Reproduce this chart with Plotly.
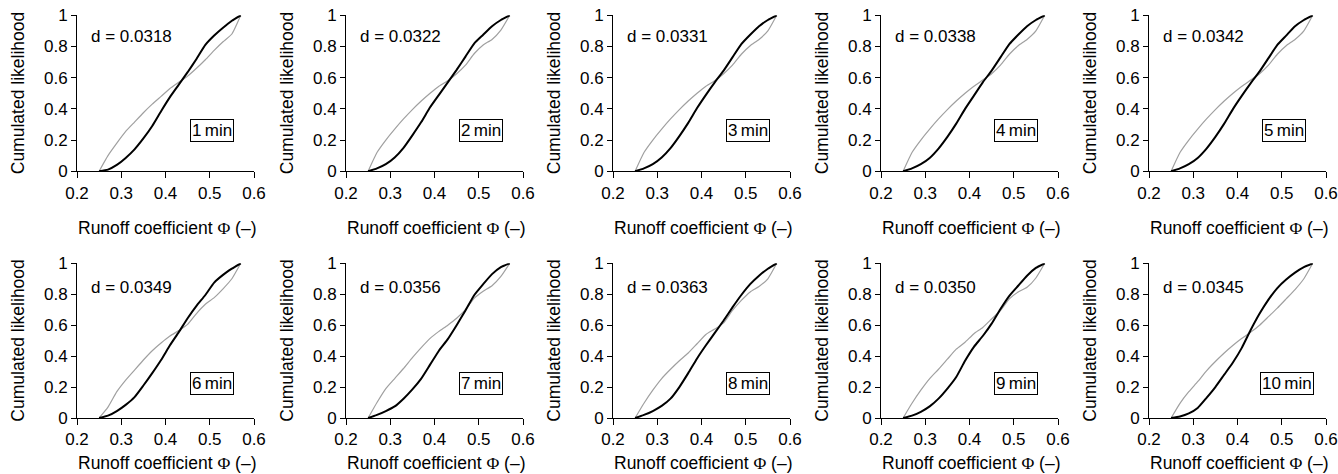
import plotly.graph_objects as go

# ---------------- data ----------------
phi_grid = [0.25, 0.27, 0.29, 0.31, 0.33, 0.35, 0.37, 0.39, 0.41, 0.43,
            0.45, 0.47, 0.49, 0.51, 0.53, 0.55, 0.57]

durations = ["1", "2", "3", "4", "5", "6", "7", "8", "9", "10"]
d_values = ["0.0318", "0.0322", "0.0331", "0.0338", "0.0342",
            "0.0349", "0.0356", "0.0363", "0.0350", "0.0345"]

# black curves (observed)
obs_1 = [0, 0.01, 0.04, 0.085, 0.14, 0.21, 0.29, 0.385, 0.475, 0.555, 0.635, 0.72, 0.81, 0.87, 0.92, 0.965, 1]
obs_2 = [0, 0.018, 0.045, 0.088, 0.15, 0.23, 0.315, 0.41, 0.49, 0.57, 0.65, 0.735, 0.82, 0.875, 0.93, 0.97, 1]
obs_3 = [0, 0.018, 0.045, 0.088, 0.148, 0.225, 0.31, 0.405, 0.49, 0.57, 0.645, 0.73, 0.815, 0.875, 0.93, 0.97, 1]
obs_4 = [0, 0.018, 0.045, 0.085, 0.145, 0.22, 0.305, 0.4, 0.485, 0.57, 0.645, 0.73, 0.815, 0.875, 0.93, 0.97, 1]
obs_5 = [0, 0.018, 0.045, 0.085, 0.145, 0.22, 0.305, 0.4, 0.485, 0.565, 0.64, 0.725, 0.81, 0.87, 0.93, 0.97, 1]
obs_6 = [0, 0.015, 0.045, 0.085, 0.135, 0.21, 0.29, 0.375, 0.47, 0.555, 0.645, 0.725, 0.795, 0.875, 0.925, 0.965, 1]
obs_7 = [0, 0.02, 0.045, 0.075, 0.125, 0.185, 0.255, 0.345, 0.435, 0.51, 0.6, 0.695, 0.795, 0.865, 0.93, 0.975, 1]
obs_8 = [0, 0.02, 0.045, 0.078, 0.125, 0.2, 0.29, 0.385, 0.47, 0.55, 0.63, 0.715, 0.795, 0.865, 0.92, 0.965, 1]
obs_9 = [0, 0.015, 0.04, 0.075, 0.125, 0.19, 0.265, 0.37, 0.46, 0.53, 0.61, 0.705, 0.79, 0.855, 0.92, 0.97, 1]
obs_10 = [0, 0.01, 0.03, 0.065, 0.13, 0.2, 0.28, 0.36, 0.455, 0.57, 0.675, 0.765, 0.84, 0.895, 0.94, 0.975, 1]

# grey curves (fitted distribution)
fit_1 = [0, 0.10, 0.18, 0.255, 0.315, 0.375, 0.43, 0.48, 0.53, 0.57, 0.61, 0.66, 0.715, 0.775, 0.83, 0.88, 1]
fit_2 = [0, 0.12, 0.2, 0.27, 0.335, 0.395, 0.45, 0.5, 0.545, 0.58, 0.625, 0.68, 0.755, 0.81, 0.845, 0.905, 1]
fit_3 = [0, 0.12, 0.2, 0.27, 0.335, 0.395, 0.45, 0.5, 0.545, 0.58, 0.625, 0.68, 0.75, 0.805, 0.845, 0.9, 1]
fit_4 = [0, 0.12, 0.2, 0.27, 0.335, 0.395, 0.45, 0.5, 0.545, 0.585, 0.625, 0.68, 0.75, 0.805, 0.845, 0.9, 1]
fit_5 = [0, 0.12, 0.2, 0.27, 0.335, 0.395, 0.45, 0.5, 0.545, 0.585, 0.625, 0.68, 0.75, 0.805, 0.845, 0.9, 1]
fit_6 = [0, 0.07, 0.17, 0.245, 0.31, 0.375, 0.435, 0.485, 0.53, 0.565, 0.605, 0.675, 0.735, 0.778, 0.835, 0.9, 1]
fit_7 = [0, 0.10, 0.19, 0.255, 0.32, 0.39, 0.455, 0.515, 0.56, 0.6, 0.645, 0.70, 0.775, 0.82, 0.855, 0.915, 1]
fit_8 = [0, 0.095, 0.18, 0.255, 0.315, 0.37, 0.42, 0.48, 0.54, 0.575, 0.615, 0.695, 0.76, 0.815, 0.85, 0.9, 1]
fit_9 = [0, 0.095, 0.18, 0.255, 0.315, 0.38, 0.445, 0.49, 0.545, 0.585, 0.64, 0.695, 0.77, 0.815, 0.845, 0.905, 1]
fit_10 = [0, 0.095, 0.17, 0.235, 0.305, 0.365, 0.42, 0.47, 0.515, 0.555, 0.6, 0.655, 0.71, 0.77, 0.83, 0.9, 1]

obs_all = [obs_1, obs_2, obs_3, obs_4, obs_5, obs_6, obs_7, obs_8, obs_9, obs_10]
fit_all = [fit_1, fit_2, fit_3, fit_4, fit_5, fit_6, fit_7, fit_8, fit_9, fit_10]

x_ticks = [0.2, 0.3, 0.4, 0.5, 0.6]
x_ticktext = ["0.2", "0.3", "0.4", "0.5", "0.6"]
y_ticks = [0, 0.2, 0.4, 0.6, 0.8, 1]
y_ticktext = ["0", "0.2", "0.4", "0.6", "0.8", "1"]

x_title = ("Runoff coefficient <span style=\"font-family:'Liberation Serif', serif\">"
           "\u03a6</span> (\u2013)")
y_title = "Cumulated likelihood"

# ---------------- layout geometry (pixels) ----------------
W, H = 1338, 474
col_left = [77, 346, 613, 881, 1149]
col_w = 177
row_top = [15.3, 263.3]
row_bot = [171.2, 418.0]
xtitle_y = [228, 463]

FONT = "Liberation Sans, Arial, sans-serif"
fs = 17

fig = go.Figure()
layout = dict(
    template="none",
    width=W, height=H, autosize=False,
    margin=dict(l=0, r=0, t=0, b=0, pad=0, autoexpand=False),
    paper_bgcolor="white", plot_bgcolor="white",
    showlegend=False,
    font=dict(family=FONT, size=fs, color="black"),
)
annotations = []

for i in range(10):
    r, c = divmod(i, 5)
    n = i + 1
    xa = "xaxis" if n == 1 else f"xaxis{n}"
    ya = "yaxis" if n == 1 else f"yaxis{n}"
    xref = "x" if n == 1 else f"x{n}"
    yref = "y" if n == 1 else f"y{n}"

    x0 = col_left[c] / W
    x1 = (col_left[c] + col_w) / W
    y0 = 1 - row_bot[r] / H
    y1 = 1 - row_top[r] / H

    layout[xa] = dict(
        domain=[x0, x1], anchor=yref, range=[0.2, 0.6], automargin=False,
        showline=True, linecolor="black", linewidth=1,
        ticks="outside", ticklen=6, tickcolor="black", tickwidth=1,
        tickvals=x_ticks, ticktext=x_ticktext,
        showgrid=False, zeroline=False, fixedrange=True,
        tickfont=dict(family=FONT, size=fs, color="black"),
    )
    layout[ya] = dict(
        domain=[y0, y1], anchor=xref, range=[0, 1], automargin=False,
        showline=True, linecolor="black", linewidth=1,
        ticks="outside", ticklen=5, tickcolor="black", tickwidth=1,
        tickvals=y_ticks, ticktext=y_ticktext,
        showgrid=False, zeroline=False, fixedrange=True,
        tickfont=dict(family=FONT, size=fs, color="black"),
    )

    fig.add_trace(go.Scatter(
        x=phi_grid, y=fit_all[i], mode="lines",
        line=dict(color="#a0a0a0", width=1.2, shape="spline", smoothing=0.5),
        xaxis=xref, yaxis=yref, hoverinfo="skip",
    ))
    fig.add_trace(go.Scatter(
        x=phi_grid, y=obs_all[i], mode="lines",
        line=dict(color="black", width=2, shape="spline", smoothing=0.5),
        xaxis=xref, yaxis=yref, hoverinfo="skip",
    ))

    # d statistic
    annotations.append(dict(
        x=0.228, y=0.865 if r == 0 else 0.845, xref=xref, yref=yref,
        text=f"d = {d_values[i]}", showarrow=False,
        xanchor="left", yanchor="middle",
        font=dict(family=FONT, size=fs, color="black"),
    ))
    # duration box
    annotations.append(dict(
        x=0.506 if len(durations[i]) == 1 else 0.512,
        y=0.26 if r == 0 else 0.225, xref=xref, yref=yref,
        text=f"{durations[i]}\u2009min", showarrow=False,
        xanchor="center", yanchor="middle",
        borderpad=1,
        bordercolor="black", borderwidth=1, bgcolor="white",
        font=dict(family=FONT, size=fs, color="black"),
    ))
    # x-axis title
    annotations.append(dict(
        x=(col_left[c] + col_w / 2 + 2) / W, y=1 - xtitle_y[r] / H,
        xref="paper", yref="paper",
        text=x_title, showarrow=False,
        xanchor="center", yanchor="middle",
        font=dict(family=FONT, size=17.5, color="black"),
    ))
    # y-axis title
    annotations.append(dict(
        x=(col_left[c] - 59) / W, y=1 - (row_top[r] + row_bot[r]) / 2 / H,
        xref="paper", yref="paper",
        text=y_title, showarrow=False, textangle=-90,
        xanchor="center", yanchor="middle",
        font=dict(family=FONT, size=17.5, color="black"),
    ))

layout["annotations"] = annotations
fig.update_layout(**layout)
fig.write_html(
    "out.html",
    config={"displayModeBar": False},
    post_script="document.body.style.margin='0px';document.body.style.overflow='hidden';",
)
